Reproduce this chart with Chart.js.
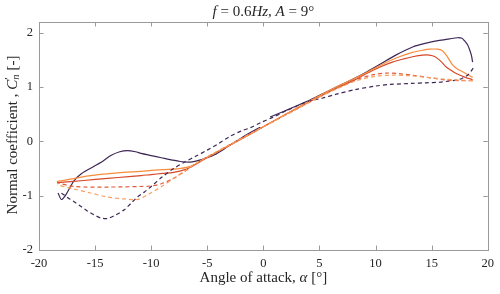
<!DOCTYPE html>
<html><head><meta charset="utf-8">
<script src="https://cdn.jsdelivr.net/npm/chart.js@4/dist/chart.umd.min.js"></script>
<style>html,body{margin:0;padding:0;background:#fff}#wrap{width:500px;height:294px}</style>
</head><body><div id="wrap"><canvas id="c" width="500" height="294"></canvas></div>
<script>
// ---- data ----
const xTicks = [-20, -15, -10, -5, 0, 5, 10, 15, 20];
const yTicks = [-2, -1, 0, 1, 2];

// dark purple series
const purpleSolidAlpha = [-18.3,-18.0,-17.6,-16.9,-16.2,-15.2,-14.5,-13.6,-12.8,-12.1,-11.4,-10.9,-10,-9.1,-8.2,-7.4,-6.5,-5.6,-4.4,-3.2,-2.0,-1.2,-0.3,null,0.6,2.0,3.9,5.0,6.5,8.0,9.2,10.4,11.8,13.3,14.5,15.7,16.6,17.3,17.7,17.9,18.2,18.4,18.55,18.65];
const purpleSolidCn    = [-0.95,-1.07,-0.98,-0.73,-0.59,-0.47,-0.39,-0.26,-0.19,-0.17,-0.19,-0.22,-0.26,-0.30,-0.34,-0.37,-0.38,-0.34,-0.25,-0.10,0.06,0.16,0.26,null,0.45,0.57,0.74,0.85,1.00,1.15,1.28,1.42,1.59,1.74,1.81,1.86,1.89,1.91,1.90,1.86,1.78,1.68,1.58,1.46];
const purpleDashAlpha  = [18.7,18.5,18.2,17.7,17.2,16.5,15.7,14.5,13.3,12.3,11.3,10,8.3,6.5,5.3,3.9,2,0.9,-0.2,-1.2,-2,-3,-4,-5,-6,-7,-8,-9,-10,-10.6,-11.2,-11.8,-12.4,-13.2,-13.9,-14.5,-15.1,-15.7,-16.25,-16.8,-17.4,-17.8,-18.2];
const purpleDashCn     = [1.35,1.29,1.22,1.16,1.13,1.11,1.09,1.08,1.07,1.06,1.05,1.02,0.96,0.87,0.80,0.73,0.56,0.45,0.35,0.25,0.19,0.09,-0.04,-0.16,-0.27,-0.38,-0.50,-0.65,-0.83,-0.93,-1.02,-1.14,-1.26,-1.36,-1.42,-1.41,-1.35,-1.28,-1.20,-1.12,-1.04,-0.98,-0.93];

// red series
const redSolidAlpha = [-18.4,-16,-13.9,-12,-10.9,-10,-9,-8,-7,-6.2,-5.6,-4,-2,0,2,4,6,8,9.2,10.4,11.5,12.5,13.3,14.2,14.8,15.3,15.8,16.3,16.8,17.2,18,18.65];
const redSolidCn    = [-0.76,-0.72,-0.68,-0.65,-0.63,-0.61,-0.59,-0.57,-0.52,-0.44,-0.37,-0.18,0.04,0.27,0.50,0.72,0.93,1.12,1.25,1.37,1.46,1.52,1.56,1.59,1.59,1.56,1.48,1.37,1.30,1.25,1.18,1.14];
const redDashAlpha  = [18.65,17.5,16.3,15,13.3,12,11,9.8,8.3,7,5,3,1,-1,-3,-5,-6,-7,-8,-9.1,-10,-11,-13.9,-16.9,-18.4];
const redDashCn     = [1.12,1.12,1.13,1.17,1.22,1.25,1.26,1.23,1.14,1.02,0.82,0.60,0.38,0.16,-0.06,-0.29,-0.41,-0.55,-0.68,-0.78,-0.82,-0.83,-0.84,-0.83,-0.76];

// orange series
const orangeSolidAlpha = [-18.4,-15.4,-13,-10.9,-9,-7.5,-6.5,-5,-3,0,2,4,6,8,9.2,10.4,12,13.3,14.2,14.8,15.5,15.9,16.3,16.9,17.4,17.8,18.65];
const orangeSolidCn    = [-0.74,-0.63,-0.58,-0.55,-0.52,-0.50,-0.46,-0.29,-0.07,0.27,0.50,0.73,0.95,1.15,1.27,1.40,1.55,1.64,1.68,1.70,1.70,1.68,1.59,1.40,1.32,1.28,1.18];
const orangeDashAlpha  = [18.65,17.5,16,14.5,13,11.5,10,8.3,7,5,3,1,-1,-3,-5,-6,-7,-8,-9,-10.3,-11.2,-12.4,-14,-15.4,-17,-18.4];
const orangeDashCn     = [1.12,1.13,1.15,1.18,1.21,1.22,1.20,1.12,1.01,0.82,0.60,0.38,0.16,-0.06,-0.28,-0.40,-0.54,-0.68,-0.82,-0.98,-1.07,-1.06,-1.02,-0.95,-0.87,-0.80];

// ---- build ----
const pts = (a, c) => a.map((v, i) => ({x: v, y: c[i]}));
const FONT = '"Liberation Serif", "Times New Roman", serif';

function line(a, c, color, dashed) {
  return {data: pts(a, c), borderColor: color, borderWidth: 1.2, borderDash: dashed ? [4, 3] : [],
          showLine: true, pointRadius: 0, tension: 0.3, spanGaps: false, fill: false};
}

function drawRich(ctx, segs, x, y, size) {
  const fontOf = (s) => (s.i ? 'italic ' : '') + (size * (s.scale || 1)).toFixed(1) + 'px ' + FONT;
  const widthOf = (s) => {
    if (s.stack) return Math.max(...s.stack.map(widthOf));
    ctx.font = fontOf(s); return ctx.measureText(s.t).width;
  };
  const total = segs.reduce((w, s) => w + widthOf(s), 0);
  let cx = x - total / 2;
  ctx.textBaseline = 'middle'; ctx.textAlign = 'left';
  const drawSeg = (s, px) => { ctx.font = fontOf(s); ctx.fillText(s.t, px, y + (s.dy || 0)); };
  for (const s of segs) {
    if (s.stack) s.stack.forEach(t => drawSeg(t, cx)); else drawSeg(s, cx);
    cx += widthOf(s);
  }
}

const framePlugin = {
  id: 'frame',
  afterDraw(chart) {
    const {ctx, chartArea: a, scales} = chart;
    ctx.save();
    ctx.strokeStyle = '#9a9a9a'; ctx.lineWidth = 1;
    ctx.strokeRect(Math.round(a.left) + 0.5, Math.round(a.top) + 0.5, Math.round(a.right - a.left), Math.round(a.bottom - a.top));
    const tl = 4.5;
    ctx.beginPath();
    xTicks.forEach(v => {
      const px = Math.round(scales.x.getPixelForValue(v)) + 0.5;
      ctx.moveTo(px, a.bottom); ctx.lineTo(px, a.bottom - tl);
      ctx.moveTo(px, a.top); ctx.lineTo(px, a.top + tl);
    });
    yTicks.forEach(v => {
      const py = Math.round(scales.y.getPixelForValue(v)) + 0.5;
      ctx.moveTo(a.left, py); ctx.lineTo(a.left + tl, py);
      ctx.moveTo(a.right, py); ctx.lineTo(a.right - tl, py);
    });
    ctx.stroke();
    ctx.fillStyle = '#262626';
    // title
    drawRich(ctx, [{t: 'f', i: true}, {t: ' = 0.6'}, {t: 'Hz', i: true}, {t: ', '}, {t: 'A', i: true}, {t: ' = 9°'}],
             (a.left + a.right) / 2, 12, 15);
    // x title
    drawRich(ctx, [{t: 'Angle of attack, '}, {t: 'α', i: true}, {t: ' [°]'}], (a.left + a.right) / 2, 278, 15);
    // y title
    ctx.translate(13, (a.top + a.bottom) / 2 - 1);
    ctx.rotate(-Math.PI / 2);
    drawRich(ctx, [{t: 'Normal coefficient , '}, {t: 'C', i: true},
                   {stack: [{t: '′', scale: 0.75, dy: -4}, {t: 'n', i: true, scale: 0.72, dy: 3}]}, {t: ' [-]'}], 0, 0, 15);
    ctx.restore();
  }
};

new Chart(document.getElementById('c'), {
  type: 'scatter',
  data: {datasets: [
    line(orangeDashAlpha, orangeDashCn, '#f9a062', true),
    line(redDashAlpha, redDashCn, '#e0593a', true),
    line(purpleDashAlpha, purpleDashCn, '#3d2856', true),
    line(orangeSolidAlpha, orangeSolidCn, '#f98c3c', false),
    line(redSolidAlpha, redSolidCn, '#d6492b', false),
    line(purpleSolidAlpha, purpleSolidCn, '#3d2856', false)
  ]},
  options: {
    responsive: false, animation: false, devicePixelRatio: 1,
    layout: {padding: {left: 0, right: 11, top: 22, bottom: 0}},
    plugins: {legend: {display: false}, tooltip: {enabled: false}, title: {display: false}},
    scales: {
      x: {type: 'linear', min: -20, max: 20,
          afterBuildTicks: s => { s.ticks = xTicks.map(v => ({value: v})); },
          afterFit: s => { s.height = 44; },
          grid: {display: false, drawTicks: false}, border: {display: false},
          ticks: {padding: 6, color: '#262626', font: {family: FONT, size: 12.5}, callback: v => String(v)}},
      y: {type: 'linear', min: -2, max: 2.2,
          afterBuildTicks: s => { s.ticks = yTicks.map(v => ({value: v})); },
          afterFit: s => { s.width = 39; },
          grid: {display: false, drawTicks: false}, border: {display: false},
          ticks: {padding: 6, color: '#262626', font: {family: FONT, size: 12.5}, callback: v => String(v)}}
    }
  },
  plugins: [framePlugin]
});
</script>
</body></html>
